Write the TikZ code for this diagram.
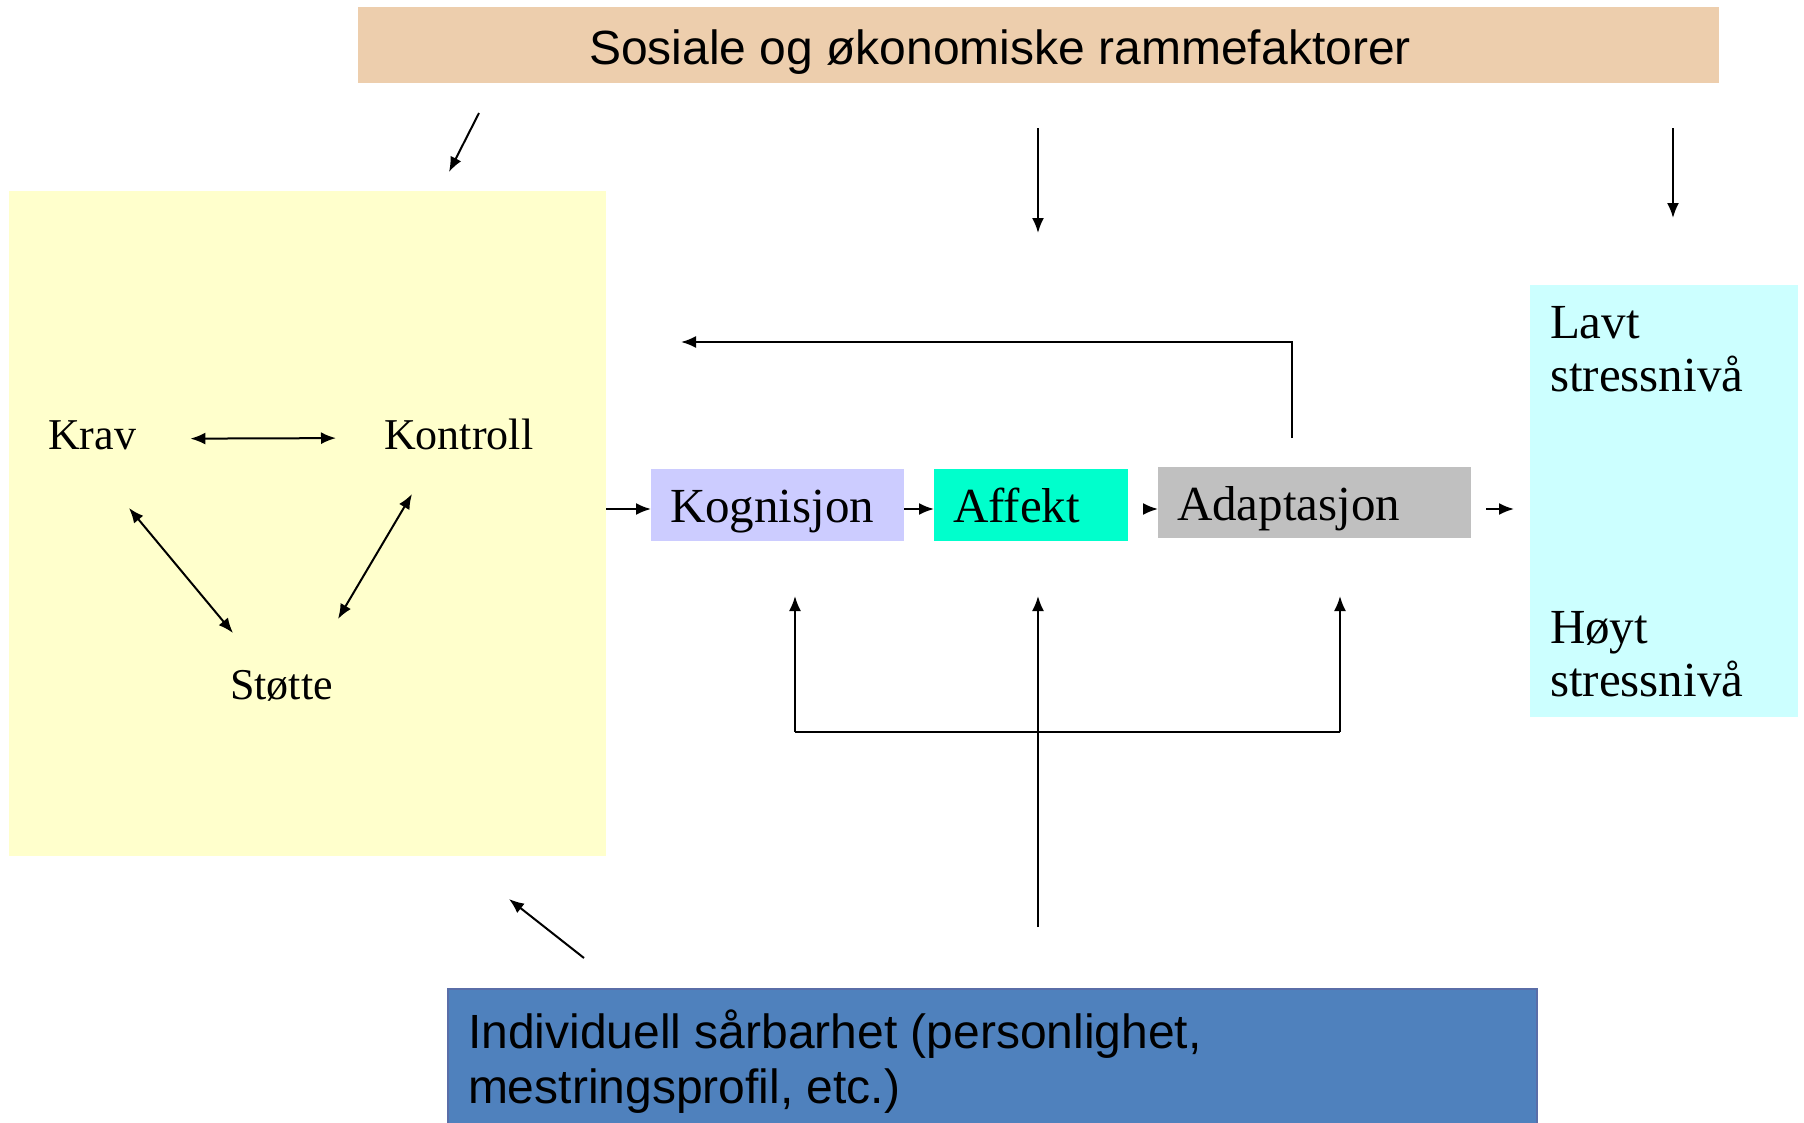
\documentclass[tikz,border=0pt]{standalone}
\usepackage{fontspec}
\setmainfont{Liberation Serif}
\newfontfamily\arialfont{Liberation Sans}
\usetikzlibrary{arrows.meta}

\definecolor{peach}{HTML}{EDCEAD}
\definecolor{lysgul}{HTML}{FFFFCC}
\definecolor{lilla}{HTML}{CCCCFF}
\definecolor{turkis}{HTML}{00FFCC}
\definecolor{graa}{HTML}{C0C0C0}
\definecolor{lysbla}{HTML}{CCFFFF}
\definecolor{bla}{HTML}{4F81BD}
\definecolor{blakant}{HTML}{5A6EA8}

\begin{document}
\begin{tikzpicture}[x=1pt,y=-1pt,
  flate/.style={anchor=north west,inner sep=0pt,outer sep=0pt},
  trinn/.style={flate,inner xsep=19pt,align=left,text height=35pt,text depth=0pt,font=\fontsize{49}{54}\selectfont},
  ord/.style={anchor=base west,inner sep=0pt,font=\fontsize{44}{50}\selectfont},
  pil/.style={-{Latex[length=15pt,width=12pt]},line width=2pt},
  dpil/.style={{Latex[length=15pt,width=12pt]}-{Latex[length=15pt,width=12pt]},line width=2pt}]
\useasboundingbox (0,0) rectangle (1804,1122);

\node[flate,fill=peach,minimum width=1361pt,minimum height=76pt] (ramme) at (358,7) {};
\node[anchor=base,inner sep=0pt,font=\arialfont\fontsize{48}{54}\selectfont] (rammetekst) at (1000,64) {Sosiale og økonomiske rammefaktorer};

\node[flate,fill=lysgul,minimum width=597pt,minimum height=665pt] (jobb) at (9,191) {};
\node[ord] (krav) at (48,449) {Krav};
\node[ord] (kontroll) at (384,449) {Kontroll};
\node[ord] (stotte) at (230,699) {Støtte};

\node[trinn,fill=lilla,minimum width=253pt,minimum height=72pt,text width=215pt] (kog) at (651,469) {Kognisjon};
\node[trinn,fill=turkis,minimum width=194pt,minimum height=72pt,text width=156pt] (aff) at (934,469) {Affekt};
\node[trinn,fill=graa,minimum width=313pt,minimum height=71pt,text width=275pt] (ada) at (1158,467) {Adaptasjon};

\node[flate,fill=lysbla,minimum width=268pt,minimum height=432pt] (niva) at (1530,285) {};
\node[flate,align=left,font=\fontsize{49}{53}\selectfont] (lavt) at (1550,306) {Lavt\\stressnivå};
\node[flate,align=left,font=\fontsize{49}{53}\selectfont] (hoyt) at (1550,611) {Høyt\\stressnivå};

\node[flate,fill=bla,draw=blakant,line width=1.5pt,minimum width=1089pt,minimum height=140pt] (indiv) at (448,989) {};
\node[flate,align=left,font=\arialfont\fontsize{48}{55}\selectfont] (indivtekst) at (468,1010) {Individuell sårbarhet (personlighet,\\mestringsprofil, etc.)};

\coordinate (a1) at (479,113);
\coordinate (a2) at (449,172);
\coordinate (b1) at (1038,128);
\coordinate (b2) at (1038,233);
\coordinate (c1) at (1673,128);
\coordinate (c2) at (1673,218);
\draw[pil] (a1) -- (a2);
\draw[pil] (b1) -- (b2);
\draw[pil] (c1) -- (c2);

\coordinate (ks1) at (129,508);
\coordinate (ks2) at (233,633);
\coordinate (ko1) at (412,494);
\coordinate (ko2) at (338,619);
\draw[dpil,shorten <=54pt,shorten >=48pt] ([yshift=-4pt]krav.east) -- ([yshift=-4pt]kontroll.west);
\draw[dpil] (ks1) -- (ks2);
\draw[dpil] (ko1) -- (ko2);

\coordinate (rekke) at (0,509);
\draw[pil] (jobb.east |- rekke) -- (kog.west |- rekke);
\draw[pil] (kog.east |- rekke) -- (aff.west |- rekke);
\draw[pil,shorten <=15pt] (aff.east |- rekke) -- (ada.west |- rekke);
\draw[pil,shorten <=15pt,shorten >=16pt] (ada.east |- rekke) -- (niva.west |- rekke);

\coordinate (tilbake) at (1292,438);
\coordinate (tilbakeslutt) at (681,342);
\draw[pil] (tilbake) |- (tilbakeslutt);

\coordinate (kilde) at (1038,927);
\coordinate (venstre) at (795,732);
\coordinate (hoyre) at (1340,732);
\coordinate (spiss) at (0,596);
\draw[line width=2pt] (venstre) -- (hoyre);
\draw[pil] (venstre) -- (venstre |- spiss);
\draw[pil] (hoyre) -- (hoyre |- spiss);
\draw[pil] (kilde) -- (kilde |- spiss);

\coordinate (d1) at (584,958);
\coordinate (d2) at (509,899);
\draw[pil] (d1) -- (d2);
\end{tikzpicture}
\end{document}
